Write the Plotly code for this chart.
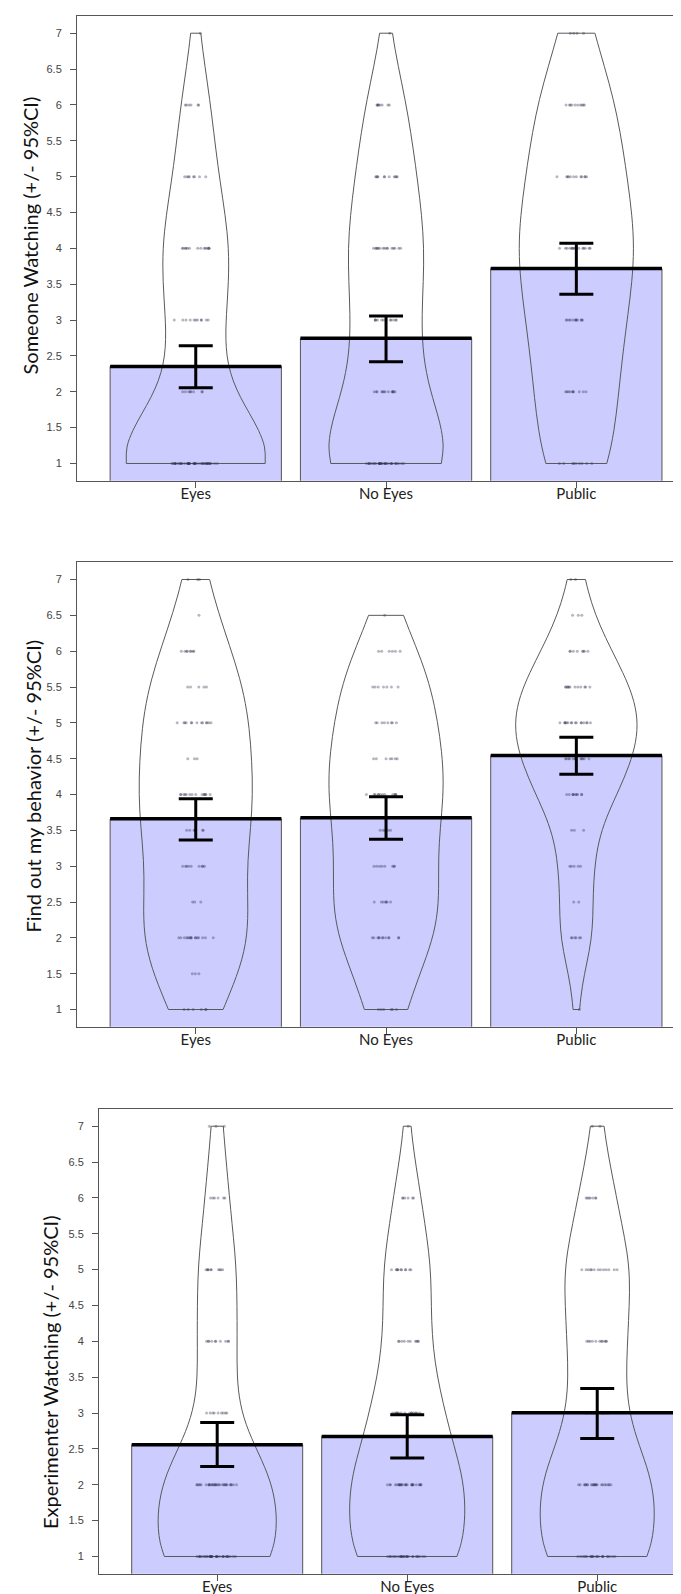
import plotly.graph_objects as go

# ---------------- data ----------------
categories = ["Eyes", "No Eyes", "Public"]

titles = ["Someone Watching (+/- 95%CI)",
          "Find out my behavior (+/- 95%CI)",
          "Experimenter Watching (+/- 95%CI)"]

levels_whole = [1, 2, 3, 4, 5, 6, 7]
levels_half = [1, 1.5, 2, 2.5, 3, 3.5, 4, 4.5, 5, 5.5, 6, 6.5, 7]

# counts of responses at each level (Eyes, No Eyes, Public)
someone_counts = [
    [42, 8, 11, 14, 8, 6, 1],
    [30, 13, 12, 15, 11, 8, 1],
    [9, 10, 12, 15, 12, 10, 4],
]
findout_counts = [
    [6, 3, 16, 3, 9, 6, 14, 3, 13, 5, 8, 1, 3],
    [6, 0, 12, 7, 8, 5, 12, 7, 8, 7, 6, 1, 0],
    [1, 0, 6, 2, 5, 3, 10, 12, 16, 12, 8, 3, 2],
]
experimenter_counts = [
    [32, 30, 9, 10, 10, 6, 3],
    [26, 26, 16, 10, 11, 6, 1],
    [22, 22, 10, 11, 13, 7, 2],
]

someone_mean = [2.354, 2.745, 3.718]
someone_lo = [2.057, 2.420, 3.360]
someone_hi = [2.643, 3.058, 4.072]

findout_mean = [3.660, 3.674, 4.544]
findout_lo = [3.366, 3.375, 4.284]
findout_hi = [3.940, 3.967, 4.800]

experimenter_mean = [2.557, 2.674, 3.004]
experimenter_lo = [2.256, 2.372, 2.646]
experimenter_hi = [2.870, 2.976, 3.344]

y_ticks = [1, 1.5, 2, 2.5, 3, 3.5, 4, 4.5, 5, 5.5, 6, 6.5, 7]

# ---------------- styling / layout ----------------
W, H = 681, 1594
BAR_COLOR = "#CCCCFF"
panels = [
    dict(levels=levels_whole, counts=someone_counts, mean=someone_mean,
         lo=someone_lo, hi=someone_hi, top=8, bottom=472.7, left=69,
         xr=[-0.624, 2.592], vw=[0.73, 0.60, 0.60], bw=0.7,
         tx=21, ty=227.5),
    dict(levels=levels_half, counts=findout_counts, mean=findout_mean,
         lo=findout_lo, hi=findout_hi, top=554.3, bottom=1018.7, left=69,
         xr=[-0.624, 2.592], vw=[0.594, 0.60, 0.636], bw=None,
         tx=24, ty=778.5),
    dict(levels=levels_whole, counts=experimenter_counts, mean=experimenter_mean,
         lo=experimenter_lo, hi=experimenter_hi, top=1101, bottom=1565.7, left=91,
         xr=[-0.622, 2.483], vw=[0.62, 0.605, 0.60], bw=0.6,
         tx=41.5, ty=1364.5),
]

fig = go.Figure()
annotations = []
BAR_W = 0.9

for p_i, p in enumerate(panels):
    suffix = "" if p_i == 0 else str(p_i + 1)
    xa, ya = "x" + suffix, "y" + suffix
    xs = list(range(len(categories)))

    # bars
    fig.add_trace(go.Bar(x=xs, y=p["mean"], width=BAR_W, xaxis=xa, yaxis=ya,
                         marker=dict(color=BAR_COLOR, line=dict(color="#555555", width=1)),
                         showlegend=False, hoverinfo="skip"))

    # violins with jittered points
    for ci, cat in enumerate(categories):
        vals = []
        for lv, c in zip(p["levels"], p["counts"][ci]):
            vals += [lv] * c
        vkw = {}
        if p["bw"]:
            vkw["bandwidth"] = p["bw"]
        fig.add_trace(go.Violin(
            y=vals, x0=ci, xaxis=xa, yaxis=ya, name=cat,
            width=p["vw"][ci], spanmode="hard", scalemode="width",
            scalegroup="p%d_%d" % (p_i, ci),
            line=dict(color="#5a5a5a", width=1), fillcolor="rgba(0,0,0,0)",
            points="all", pointpos=0, jitter=0.35,
            marker=dict(size=3, color="rgba(50,50,80,0.35)", line=dict(width=0)),
            box_visible=False, meanline_visible=False, showlegend=False,
            hoverinfo="skip", **vkw))

    # mean lines across the top of bars
    mx, my = [], []
    for ci in xs:
        mx += [ci - BAR_W / 2, ci + BAR_W / 2, None]
        my += [p["mean"][ci], p["mean"][ci], None]
    fig.add_trace(go.Scatter(x=mx, y=my, mode="lines", xaxis=xa, yaxis=ya,
                             line=dict(color="black", width=3.5),
                             showlegend=False, hoverinfo="skip"))

    # 95% CI error bars
    fig.add_trace(go.Scatter(
        x=xs, y=p["mean"], mode="markers", xaxis=xa, yaxis=ya,
        marker=dict(size=1, opacity=0),
        error_y=dict(type="data", symmetric=False,
                     array=[h - m for h, m in zip(p["hi"], p["mean"])],
                     arrayminus=[m - l for m, l in zip(p["mean"], p["lo"])],
                     thickness=3, width=17, color="black"),
        showlegend=False, hoverinfo="skip"))

    xdom = [p["left"] / W, 1.0]
    ydom = [1 - p["bottom"] / H, 1 - p["top"] / H]
    fig.update_layout(**{
        "xaxis" + suffix: dict(
            domain=xdom, range=p["xr"], anchor=ya,
            tickmode="array", tickvals=xs, ticktext=categories,
            ticks="outside", ticklen=6, tickcolor="#555555",
            showline=True, linecolor="#555555", linewidth=1, mirror=True,
            showgrid=False, zeroline=False,
            tickfont=dict(family="Lato", size=15, color="#222222"),
            ticklabelstandoff=-7),
        "yaxis" + suffix: dict(
            domain=ydom, range=[0.76, 7.24], anchor=xa,
            tickmode="array", tickvals=y_ticks,
            ticktext=[("%g" % t) for t in y_ticks],
            ticks="outside", ticklen=6, tickcolor="#555555",
            showline=True, linecolor="#555555", linewidth=1,
            showgrid=False, zeroline=False,
            tickfont=dict(family="Liberation Sans", size=11, color="#444444"),
            ticklabelstandoff=6),
    })
    annotations.append(dict(
        text=titles[p_i], xref="paper", yref="paper",
        x=p["tx"] / W, y=1 - p["ty"] / H, textangle=-90,
        showarrow=False, xanchor="center", yanchor="middle",
        font=dict(family="Lato", size=20, color="#111111")))

fig.update_layout(
    width=W, height=H, margin=dict(l=0, r=0, t=0, b=0),
    paper_bgcolor="white", plot_bgcolor="white",
    barmode="overlay", violinmode="overlay",
    annotations=annotations, showlegend=False,
)

fig.write_html("out.html")
